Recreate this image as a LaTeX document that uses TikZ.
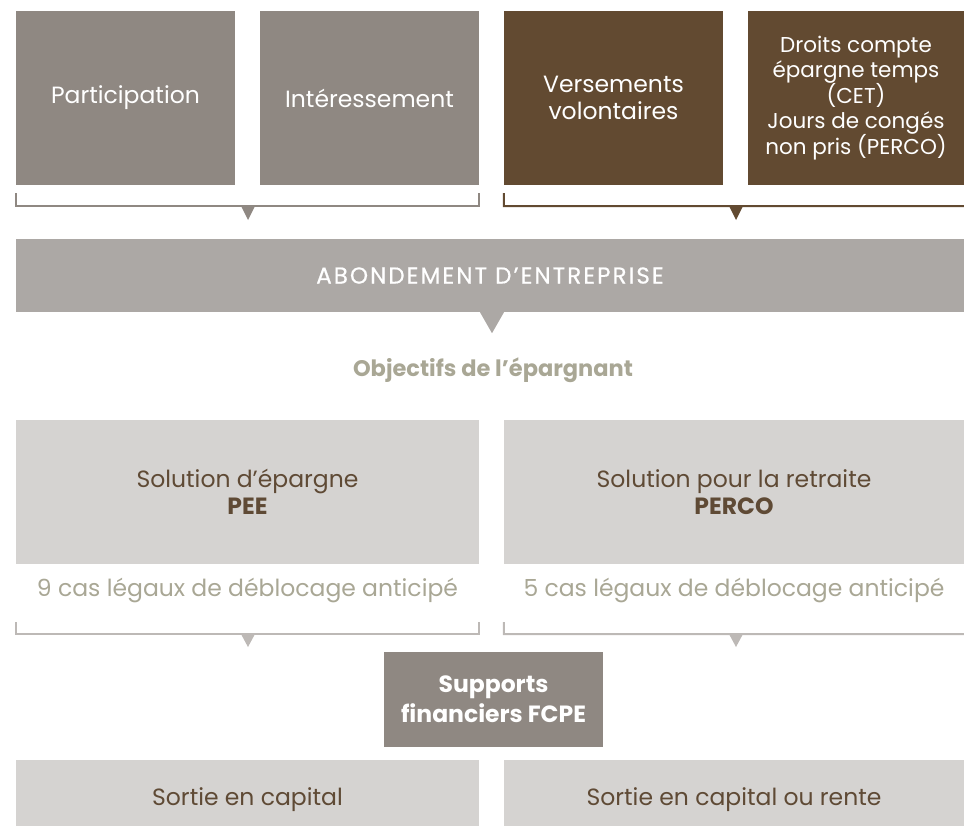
\documentclass[tikz,border=0pt]{standalone}
\usepackage{fontspec}
\setmainfont{Poppins}
\usepackage{tikz}
\usetikzlibrary{positioning,calc}

\definecolor{taupe}{HTML}{8F8882}
\definecolor{brun}{HTML}{624A31}
\definecolor{grismoyen}{HTML}{ACA8A5}
\definecolor{grisclair}{HTML}{D5D3D1}
\definecolor{textebrun}{HTML}{5F4A35}
\definecolor{olive}{HTML}{A9A795}
\definecolor{trait}{HTML}{BDB9B6}

\begin{document}
\begin{tikzpicture}[
    x=1pt, y=-1pt,
    box/.style={inner sep=0pt, align=center, font=\fontsize{23.5}{27}\selectfont},
    source/.style={box, fill=taupe, text=white, minimum width=219pt, minimum height=174pt},
    perso/.style={box, fill=brun, text=white, minimum width=219pt, minimum height=174pt},
    solution/.style={box, fill=grisclair, text=textebrun, minimum width=463pt},
    legend/.style={text=olive, font=\fontsize{23.5}{27}\selectfont},
    bracket/.style={line width=2pt}
]
\useasboundingbox (0,0) rectangle (964,825);

% sources de l'epargne
\node[source] (part) at (125.5,98) {Participation};
\node[source] (inter) at (369.5,98) {Intéressement};
\node[perso] (vers) at (613.5,98) {Versements\\volontaires};
\node[perso, minimum width=216pt, font=\fontsize{21.5}{25.5}\selectfont\setlength{\lineskiplimit}{-30pt}] (droits) at (856,98)
    {Droits compte\\épargne temps\\(CET)\\Jours de congés\\non pris (PERCO)};

\draw[bracket, taupe] ([yshift=-8pt]part.south west) -- ++(0,13)
    -| ([yshift=-8pt]inter.south east);
\draw[bracket, brun] ([yshift=-8pt]vers.south west) -- ++(0,13) -- (964,206);
\fill[taupe] (241,206) -- (255,206) -- (248,220) -- cycle;
\fill[brun] (729,206) -- (743,206) -- (736,220) -- cycle;

% abondement
\node[box, fill=grismoyen, text=white, minimum width=948pt, minimum height=73pt,
    font=\fontsize{23}{26}\selectfont\addfontfeature{FakeBold=0.6,LetterSpace=9}] (abond) at (490,275.5)
    {ABONDEMENT D’ENTREPRISE};
\fill[grismoyen] ([xshift=-10pt]abond.south) -- ([xshift=14pt]abond.south)
    -- ([xshift=2pt,yshift=-21pt]abond.south) -- cycle;

\node[legend, font=\fontsize{22.5}{26}\selectfont\bfseries] (obj) at (493,370) {Objectifs de l’épargnant};

% solutions
\node[solution, minimum height=144pt] (pee) at (247.5,492) {Solution d’épargne\\\textbf{PEE}};
\node[solution, minimum width=460pt, minimum height=144pt] (perco) at (734,492)
    {Solution pour la retraite\\\textbf{PERCO}};
\node[legend] (peecas) at (247.5,590) {9 cas légaux de déblocage anticipé};
\node[legend] (percocas) at (734,590) {5 cas légaux de déblocage anticipé};

\draw[bracket, trait] ([yshift=-58pt]pee.south west) -- ++(0,12) -| ([yshift=-58pt]pee.south east);
\draw[bracket, trait] ([yshift=-58pt]perco.south west) -- ++(0,12) -- (964,634);
\fill[trait] (241,634) -- (255,634) -- (248,647) -- cycle;
\fill[trait] (729,634) -- (743,634) -- (736,647) -- cycle;

% supports et sorties
\node[box, fill=taupe, text=white, minimum width=219pt, minimum height=95pt,
    font=\fontsize{23.5}{30}\selectfont\bfseries] (fcpe) at (493.5,699.5) {Supports\\financiers FCPE};
\node[solution, minimum height=80pt] (sortie1) at (247.5,800) {Sortie en capital};
\node[solution, minimum width=460pt, minimum height=80pt] (sortie2) at (734,800) {Sortie en capital ou rente};
\end{tikzpicture}
\end{document}
